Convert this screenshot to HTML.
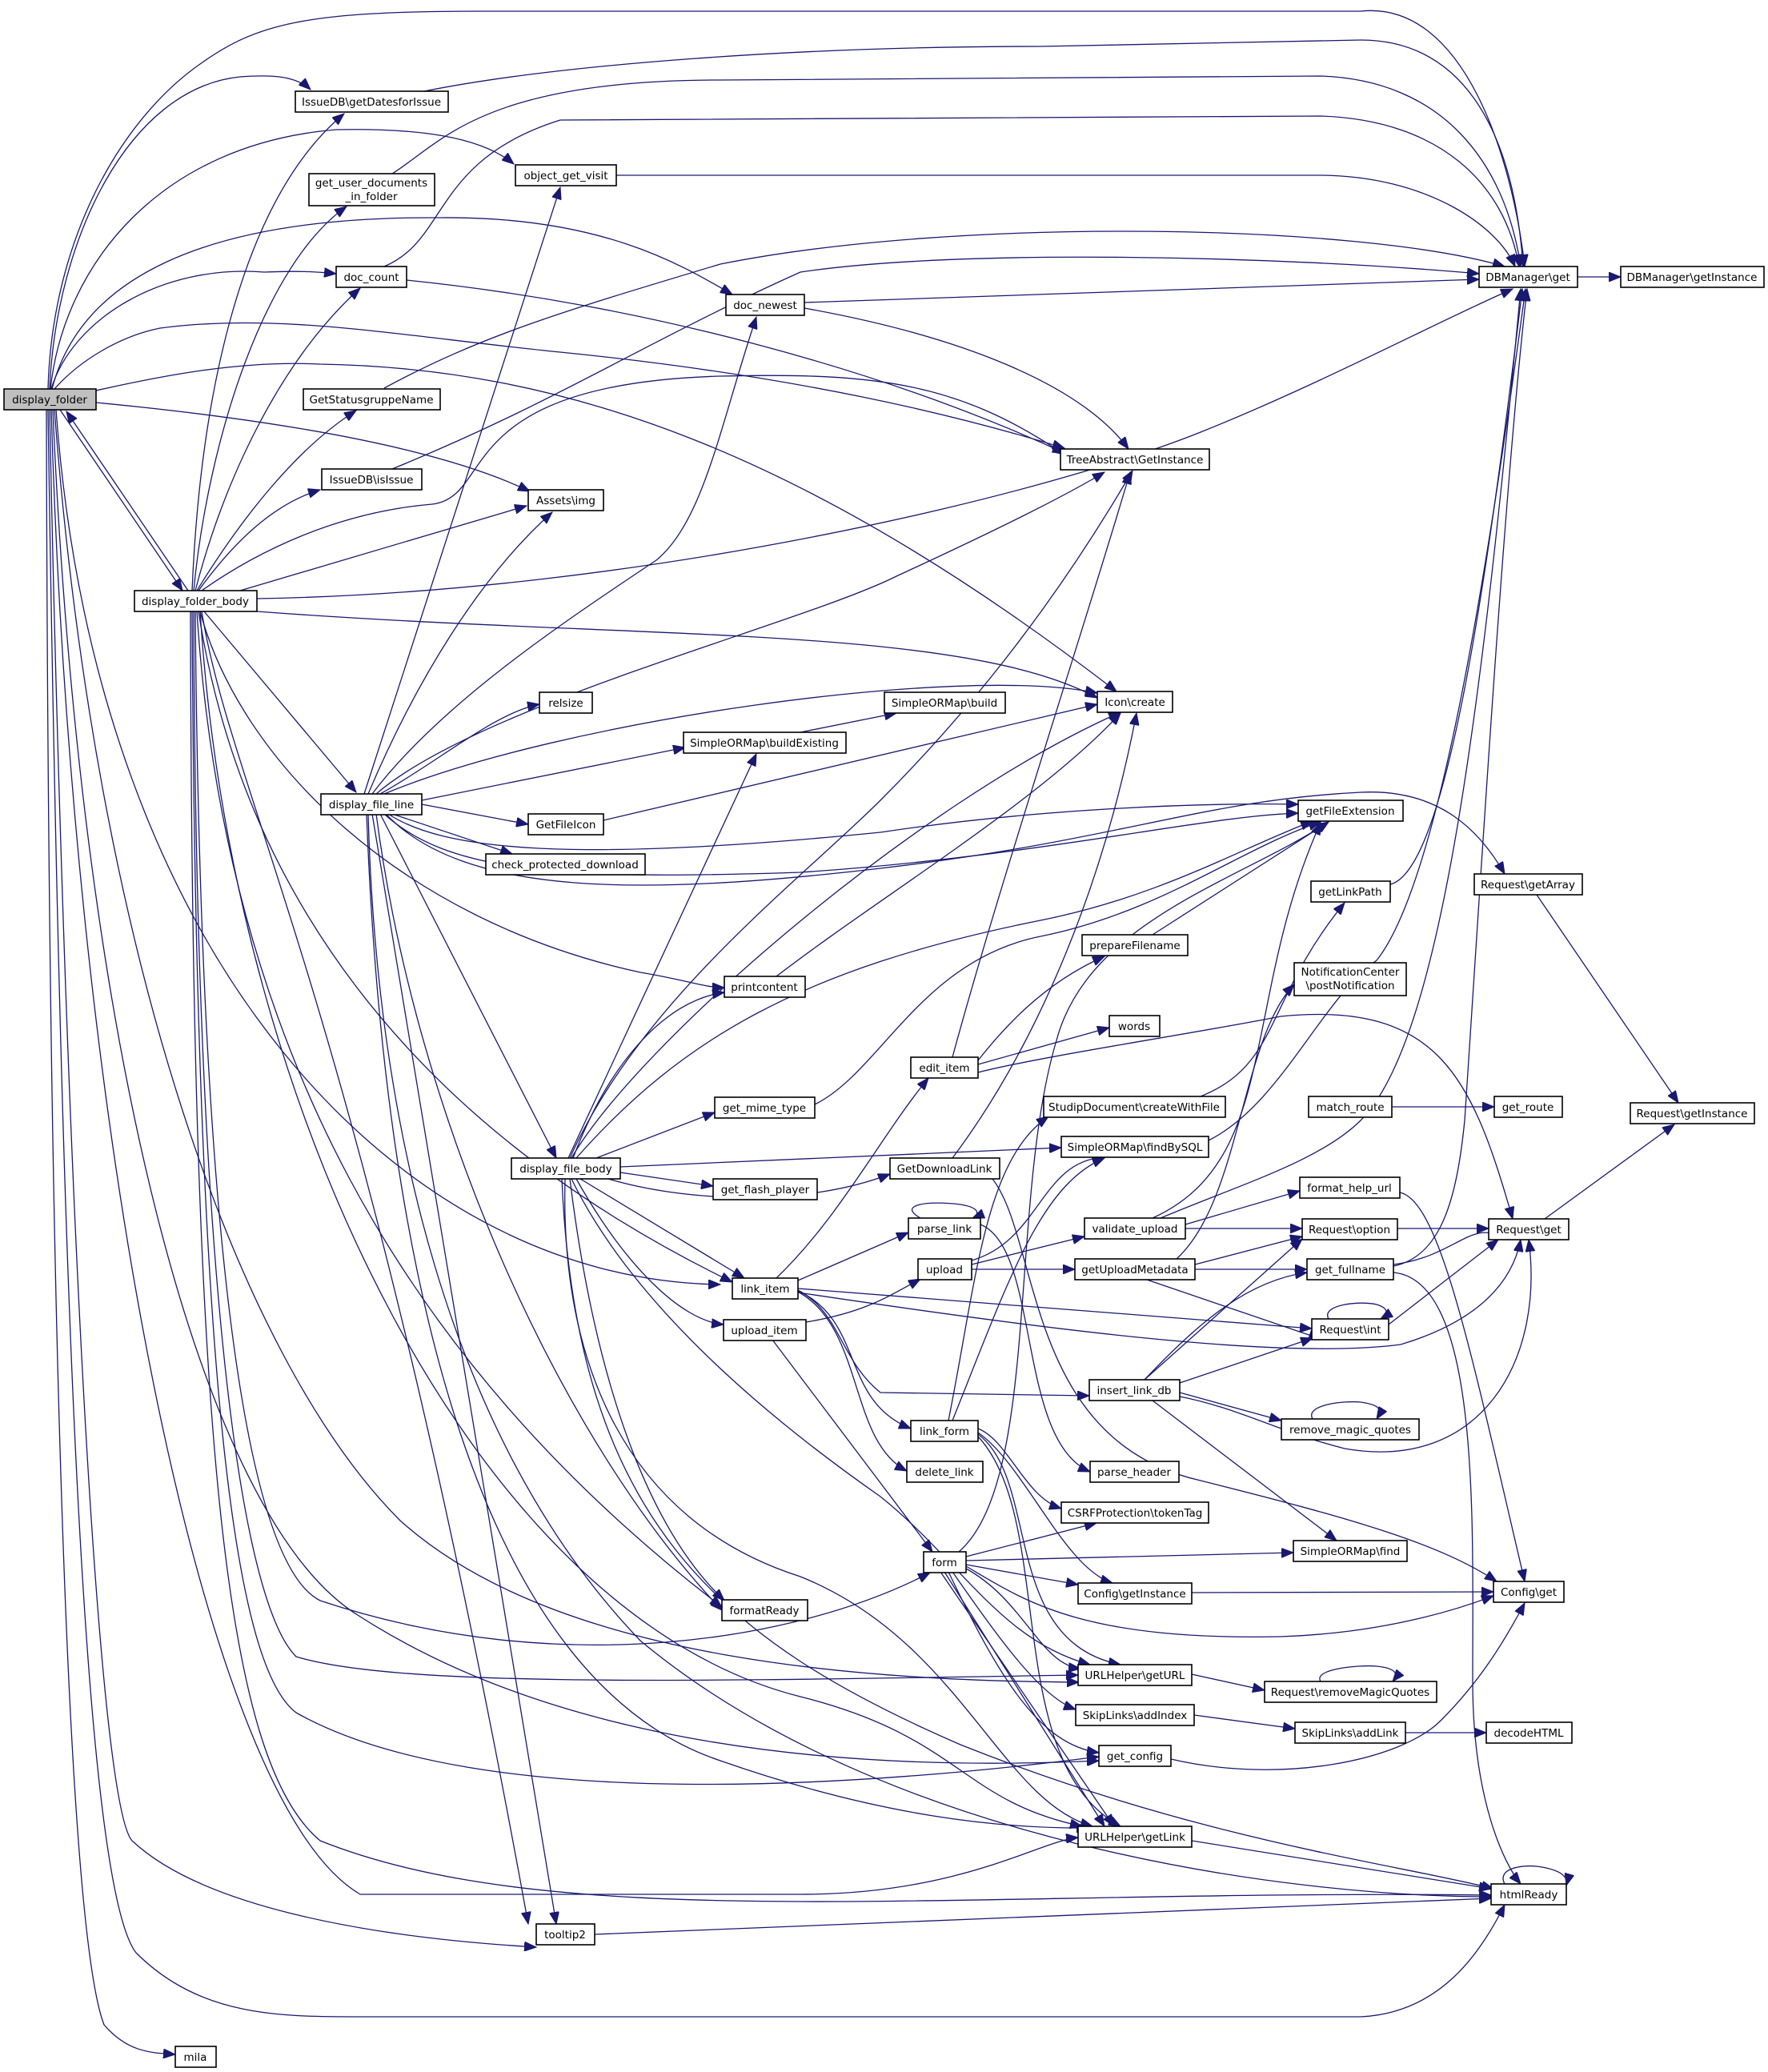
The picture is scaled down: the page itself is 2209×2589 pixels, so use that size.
<!DOCTYPE html>
<html><head><meta charset="utf-8"><style>
html,body{margin:0;padding:0;background:#fff;}
svg{display:block;}
.e{fill:none;stroke:#191970;stroke-width:1.3;marker-end:url(#a);}
.n rect{fill:#fff;stroke:#000;stroke-width:1.6;}
text{font-family:"DejaVu Sans","Liberation Sans",sans-serif;font-size:13.5px;fill:#000;text-anchor:middle;}
</style></head><body>
<svg width="2209" height="2589" viewBox="0 0 2209 2589" xmlns="http://www.w3.org/2000/svg">
<defs><marker id="a" markerUnits="userSpaceOnUse" markerWidth="16" markerHeight="12" refX="15" refY="6" orient="auto"><path d="M0,0 L15,6 L0,12 z" fill="#191970" stroke="#191970"/></marker></defs>
<g>
<path class="e" d="M60,486 C65,300 150,150 250,80 C320,30 380,14 600,14 L1700,14 C1830,0 1890,200 1905,333"/>
<path class="e" d="M62,486 C70,300 160,110 300,96 C340,93 370,95 388,112"/>
<path class="e" d="M63,486 C80,330 200,180 420,162 C520,160 600,170 642,205"/>
<path class="e" d="M64,486 C90,400 200,330 330,340 C380,338 400,340 420,342"/>
<path class="e" d="M65,486 C100,350 250,270 550,272 C750,270 850,330 915,368"/>
<path class="e" d="M68,486 C100,450 150,420 200,410 C350,390 500,420 700,440 C1000,470 1200,520 1330,560"/>
<path class="e" d="M120,488 C200,470 300,450 400,455 C700,460 1000,560 1395,864"/>
<path class="e" d="M120,503 C350,525 550,560 662,614"/>
<path class="e" d="M75,512 L228,738"/>
<path class="e" d="M235,738 L83,514"/>
<path class="e" d="M58,512 C60,1500 80,2400 130,2530 C160,2565 190,2565 219,2567"/>
<path class="e" d="M60,512 C75,1500 100,2350 170,2440 C250,2520 350,2520 450,2520 L1700,2520 C1800,2515 1850,2440 1880,2380"/>
<path class="e" d="M62,512 C80,1400 120,2250 165,2300 C250,2380 450,2420 670,2433"/>
<path class="e" d="M64,512 C90,1400 250,2250 450,2367 L1000,2367 C1200,2367 1300,2300 1347,2296"/>
<path class="e" d="M66,512 C100,1300 250,1900 450,2020 C700,2180 1050,2215 1373,2200"/>
<path class="e" d="M68,512 C120,1200 300,1700 500,1900 C700,2080 1100,2100 1348,2102"/>
<path class="e" d="M70,512 C120,1200 500,1600 900,1605"/>
<path class="e" d="M240,738 C250,500 300,250 430,142"/>
<path class="e" d="M242,738 C260,550 330,330 433,258"/>
<path class="e" d="M244,738 C280,600 350,450 450,360"/>
<path class="e" d="M246,738 C300,650 370,560 445,513"/>
<path class="e" d="M248,738 C290,680 340,630 400,612"/>
<path class="e" d="M300,738 L658,632"/>
<path class="e" d="M252,738 C320,690 420,640 540,630 C620,620 560,480 900,470 C1100,465 1200,480 1330,568"/>
<path class="e" d="M321,748 C800,740 1300,620 1500,540 C1650,480 1800,400 1890,361"/>
<path class="e" d="M321,764 C800,800 1200,780 1371,872"/>
<path class="e" d="M255,764 L445,990"/>
<path class="e" d="M250,764 C300,950 500,1150 800,1215 C860,1225 880,1234 905,1234"/>
<path class="e" d="M248,764 C300,1100 500,1400 915,1602"/>
<path class="e" d="M246,764 C280,1300 500,1700 902,2008"/>
<path class="e" d="M244,764 C250,1500 300,1950 400,2000 C700,2100 1000,2050 1162,1965"/>
<path class="e" d="M242,764 C245,1600 300,2000 370,2070 C500,2110 900,2100 1347,2093"/>
<path class="e" d="M240,764 C245,1700 290,2080 370,2140 C600,2270 1100,2230 1373,2195"/>
<path class="e" d="M238,764 C240,1800 280,2200 400,2300 C700,2420 1200,2360 1863,2368"/>
<path class="e" d="M250,764 C290,1400 600,2020 1000,2120 C1200,2170 1200,2250 1352,2282"/>
<path class="e" d="M252,764 C290,1000 450,1250 660,2404"/>
<path class="e" d="M455,992 L700,234"/>
<path class="e" d="M460,992 C520,850 600,720 690,640"/>
<path class="e" d="M465,992 C550,880 700,780 820,700 C880,650 900,530 945,396"/>
<path class="e" d="M470,992 C600,880 1000,780 1120,720 C1250,660 1330,620 1380,590"/>
<path class="e" d="M475,992 C550,950 620,890 674,880"/>
<path class="e" d="M480,992 C700,900 1200,830 1371,866"/>
<path class="e" d="M527,1000 L856,934"/>
<path class="e" d="M527,1005 L660,1030"/>
<path class="e" d="M490,1017 L640,1067"/>
<path class="e" d="M485,1017 C550,1060 700,1080 1100,1040 C1300,1010 1500,1003 1622,1005"/>
<path class="e" d="M480,1017 C560,1090 700,1100 1000,1090 C1300,1070 1500,1020 1622,1016"/>
<path class="e" d="M482,1017 C580,1120 800,1120 1100,1085 C1400,1050 1500,1000 1700,990 C1800,985 1850,1040 1880,1092"/>
<path class="e" d="M465,1017 L695,2404"/>
<path class="e" d="M460,1017 C470,1400 560,1800 800,2050 C1100,2300 1600,2370 1863,2370"/>
<path class="e" d="M470,1017 C520,1400 700,1800 902,2012"/>
<path class="e" d="M475,1017 L695,1447"/>
<path class="e" d="M458,1017 C480,1600 600,2100 900,2200 C1100,2270 1250,2285 1360,2284"/>
<path class="e" d="M710,1447 L945,942"/>
<path class="e" d="M712,1447 C800,1250 1000,1100 1100,1000 C1250,850 1350,700 1415,588"/>
<path class="e" d="M714,1447 C800,1300 1150,1000 1400,890"/>
<path class="e" d="M716,1447 C760,1330 830,1250 905,1240"/>
<path class="e" d="M720,1447 C850,1300 1000,1210 1300,1150 C1450,1120 1550,1060 1640,1026"/>
<path class="e" d="M745,1447 L893,1390"/>
<path class="e" d="M775,1458 L1326,1434"/>
<path class="e" d="M775,1465 L891,1482"/>
<path class="e" d="M760,1473 C850,1500 1000,1510 1112,1467"/>
<path class="e" d="M725,1473 L930,1597"/>
<path class="e" d="M720,1473 C780,1580 850,1650 904,1655"/>
<path class="e" d="M712,1473 C740,1700 800,1900 905,2000"/>
<path class="e" d="M706,1473 C700,1700 780,1900 1000,1970 C1200,2050 1250,2250 1365,2282"/>
<path class="e" d="M714,1473 C800,1650 1000,1800 1100,1870 C1200,1950 1250,2050 1362,2080"/>
<path class="e" d="M702,1473 C720,1900 900,2050 1200,2180 C1500,2300 1750,2330 1866,2360"/>
<path class="e" d="M970,1597 C1050,1520 1100,1420 1160,1347"/>
<path class="e" d="M997,1600 L1135,1540"/>
<path class="e" d="M997,1610 L1639,1660"/>
<path class="e" d="M997,1615 C1300,1660 1600,1700 1750,1680 C1850,1650 1890,1600 1900,1549"/>
<path class="e" d="M997,1612 C1050,1640 1050,1700 1100,1740 L1361,1744"/>
<path class="e" d="M997,1613 C1080,1650 1050,1750 1138,1785"/>
<path class="e" d="M997,1614 C1080,1660 1060,1800 1133,1838"/>
<path class="e" d="M1007,1652 C1080,1640 1110,1620 1150,1598"/>
<path class="e" d="M965,1674 L1165,1939"/>
<path class="e" d="M1190,1321 C1250,1100 1350,800 1412,590"/>
<path class="e" d="M1222,1330 L1386,1284"/>
<path class="e" d="M1222,1325 C1250,1290 1300,1230 1380,1195"/>
<path class="e" d="M1222,1340 C1300,1320 1500,1290 1600,1270 C1800,1250 1840,1350 1890,1523"/>
<path class="e" d="M1190,1447 C1300,1300 1380,1100 1420,891"/>
<path class="e" d="M1240,1473 C1300,1550 1280,1800 1500,1850 C1700,1900 1800,1930 1870,1976"/>
<path class="e" d="M1150,1522 C1120,1505 1160,1500 1200,1505 C1230,1510 1220,1520 1215,1522"/>
<path class="e" d="M1225,1530 C1300,1560 1270,1800 1362,1839"/>
<path class="e" d="M1214,1580 L1355,1545"/>
<path class="e" d="M1214,1586 L1343,1586"/>
<path class="e" d="M1214,1575 C1300,1550 1300,1450 1380,1446"/>
<path class="e" d="M1481,1535 L1627,1535"/>
<path class="e" d="M1481,1530 L1624,1488"/>
<path class="e" d="M1450,1522 C1550,1480 1650,1450 1700,1400 C1800,1300 1850,900 1900,361"/>
<path class="e" d="M1440,1522 C1600,1450 1550,1250 1650,1028"/>
<path class="e" d="M1493,1580 L1627,1545"/>
<path class="e" d="M1493,1586 L1633,1586"/>
<path class="e" d="M1430,1598 L1650,1673"/>
<path class="e" d="M1470,1573 C1550,1500 1550,1300 1617,1230"/>
<path class="e" d="M1741,1580 C1820,1570 1840,1520 1880,1549"/>
<path class="e" d="M1741,1590 C1850,1600 1840,1900 1840,2100 C1840,2250 1880,2330 1900,2354"/>
<path class="e" d="M1741,1582 C1800,1570 1820,1500 1830,1400 C1850,1100 1880,600 1908,361"/>
<path class="e" d="M1746,1535 L1860,1535"/>
<path class="e" d="M1735,1655 L1872,1549"/>
<path class="e" d="M1660,1648 C1650,1630 1700,1625 1720,1630 C1740,1636 1730,1645 1725,1648"/>
<path class="e" d="M1930,1523 L2092,1405"/>
<path class="e" d="M1920,1118 L2097,1378"/>
<path class="e" d="M1971,346 L2025,346"/>
<path class="e" d="M1739,1383 L1867,1383"/>
<path class="e" d="M1749,1490 C1800,1500 1840,1700 1905,1976"/>
<path class="e" d="M1737,1105 C1800,1090 1850,800 1902,361"/>
<path class="e" d="M1440,1168 L1660,1027"/>
<path class="e" d="M1510,1425 C1600,1380 1650,1250 1720,1200 C1800,1100 1860,700 1906,361"/>
<path class="e" d="M1500,1370 C1600,1330 1580,1250 1680,1128"/>
<path class="e" d="M1430,1724 L1627,1548"/>
<path class="e" d="M1430,1724 C1500,1650 1560,1600 1633,1590"/>
<path class="e" d="M1474,1728 L1640,1672"/>
<path class="e" d="M1474,1740 L1601,1775"/>
<path class="e" d="M1440,1750 L1670,1925"/>
<path class="e" d="M1474,1745 C1550,1760 1600,1790 1680,1810 C1850,1840 1930,1700 1910,1549"/>
<path class="e" d="M1640,1773 C1630,1755 1680,1750 1700,1752 C1730,1756 1725,1765 1720,1773"/>
<path class="e" d="M1185,1775 C1220,1600 1230,1450 1310,1395"/>
<path class="e" d="M1190,1775 C1260,1600 1300,1480 1380,1447"/>
<path class="e" d="M1222,1785 C1260,1800 1280,1870 1326,1885"/>
<path class="e" d="M1222,1790 C1280,1830 1330,1960 1390,1978"/>
<path class="e" d="M1222,1792 C1300,1850 1250,2050 1400,2080"/>
<path class="e" d="M1222,1795 C1320,1900 1250,2200 1400,2282"/>
<path class="e" d="M1207,1945 L1370,1903"/>
<path class="e" d="M1207,1950 L1616,1940"/>
<path class="e" d="M1207,1955 L1347,1980"/>
<path class="e" d="M1207,1957 C1280,2000 1350,2050 1600,2045 C1750,2040 1850,2000 1866,1994"/>
<path class="e" d="M1207,1960 C1280,2000 1300,2080 1350,2085"/>
<path class="e" d="M1190,1964 C1250,2050 1300,2120 1344,2136"/>
<path class="e" d="M1185,1964 C1250,2100 1300,2180 1373,2190"/>
<path class="e" d="M1180,1964 L1380,2282"/>
<path class="e" d="M1175,1964 L1392,2282"/>
<path class="e" d="M1198,1939 C1300,1850 1260,1500 1320,1300 C1360,1150 1550,1100 1660,1027"/>
<path class="e" d="M1489,1990 L1866,1989"/>
<path class="e" d="M1489,2092 L1580,2112"/>
<path class="e" d="M1650,2101 C1640,2085 1700,2080 1720,2082 C1750,2085 1745,2095 1740,2101"/>
<path class="e" d="M1492,2143 L1618,2160"/>
<path class="e" d="M1756,2165 L1857,2165"/>
<path class="e" d="M1463,2198 C1600,2230 1750,2200 1800,2150 C1850,2100 1880,2050 1905,2003"/>
<path class="e" d="M1489,2300 L1863,2360"/>
<path class="e" d="M1880,2354 C1870,2335 1900,2330 1920,2332 C1950,2336 1960,2345 1957,2356"/>
<path class="e" d="M743,2417 L1863,2372"/>
<path class="e" d="M754,1025 L1371,880"/>
<path class="e" d="M1000,915 L1120,891"/>
<path class="e" d="M480,485 C600,420 700,390 900,330 C1200,270 1700,280 1880,333"/>
<path class="e" d="M490,586 C700,500 800,430 1000,340 C1200,310 1600,320 1848,342"/>
<path class="e" d="M530,114 C700,80 1000,58 1300,58 L1700,50 C1820,50 1890,150 1903,333"/>
<path class="e" d="M490,217 C550,180 600,100 900,100 L1650,95 C1800,100 1880,200 1900,333"/>
<path class="e" d="M480,333 C560,300 540,200 700,150 L1650,145 C1800,150 1880,230 1898,333"/>
<path class="e" d="M508,350 C800,380 1100,460 1330,566"/>
<path class="e" d="M770,219 L1650,219 C1780,220 1870,280 1893,333"/>
<path class="e" d="M1005,378 L1848,349"/>
<path class="e" d="M1005,385 C1200,420 1350,480 1410,561"/>
<path class="e" d="M970,1220 C1100,1120 1300,1000 1400,891"/>
<path class="e" d="M1018,1380 C1100,1340 1150,1200 1300,1170 C1450,1140 1550,1060 1650,1027"/>
</g>
<g class="n">
<rect x="5" y="486" width="115" height="26" style="fill:#bfbfbf"/><text x="62" y="504">display_folder</text>
<rect x="369" y="114" width="191" height="26"/><text x="464" y="132">IssueDB\getDatesforIssue</text>
<rect x="386" y="217" width="157" height="40"/><text x="464" y="233">get_user_documents</text><text x="464" y="250">_in_folder</text>
<rect x="644" y="206" width="126" height="26"/><text x="707" y="224">object_get_visit</text>
<rect x="420" y="333" width="88" height="26"/><text x="464" y="351">doc_count</text>
<rect x="907" y="368" width="98" height="26"/><text x="956" y="386">doc_newest</text>
<rect x="379" y="486" width="171" height="26"/><text x="464" y="504">GetStatusgruppeName</text>
<rect x="402" y="586" width="125" height="26"/><text x="464" y="604">IssueDB\isIssue</text>
<rect x="660" y="612" width="94" height="26"/><text x="707" y="630">Assets\img</text>
<rect x="168" y="738" width="153" height="26"/><text x="244" y="756">display_folder_body</text>
<rect x="674" y="865" width="66" height="26"/><text x="707" y="883">relsize</text>
<rect x="854" y="915" width="203" height="26"/><text x="955" y="933">SimpleORMap\buildExisting</text>
<rect x="401" y="992" width="126" height="26"/><text x="464" y="1010">display_file_line</text>
<rect x="660" y="1017" width="94" height="26"/><text x="707" y="1035">GetFileIcon</text>
<rect x="607" y="1067" width="199" height="26"/><text x="706" y="1085">check_protected_download</text>
<rect x="905" y="1220" width="101" height="26"/><text x="955" y="1238">printcontent</text>
<rect x="1848" y="333" width="123" height="26"/><text x="1909" y="351">DBManager\get</text>
<rect x="2025" y="333" width="179" height="26"/><text x="2114" y="351">DBManager\getInstance</text>
<rect x="1325" y="561" width="186" height="26"/><text x="1418" y="579">TreeAbstract\GetInstance</text>
<rect x="1105" y="865" width="151" height="26"/><text x="1180" y="883">SimpleORMap\build</text>
<rect x="1371" y="864" width="94" height="26"/><text x="1418" y="882">Icon\create</text>
<rect x="1622" y="1000" width="131" height="26"/><text x="1687" y="1018">getFileExtension</text>
<rect x="1638" y="1101" width="99" height="26"/><text x="1687" y="1119">getLinkPath</text>
<rect x="1842" y="1092" width="135" height="26"/><text x="1909" y="1110">Request\getArray</text>
<rect x="1352" y="1168" width="132" height="26"/><text x="1418" y="1186">prepareFilename</text>
<rect x="1617" y="1203" width="140" height="41"/><text x="1687" y="1219">NotificationCenter</text><text x="1687" y="1236">\postNotification</text>
<rect x="1386" y="1269" width="63" height="26"/><text x="1417" y="1287">words</text>
<rect x="639" y="1447" width="136" height="26"/><text x="707" y="1465">display_file_body</text>
<rect x="893" y="1371" width="125" height="26"/><text x="955" y="1389">get_mime_type</text>
<rect x="891" y="1473" width="130" height="26"/><text x="956" y="1491">get_flash_player</text>
<rect x="915" y="1597" width="82" height="26"/><text x="956" y="1615">link_item</text>
<rect x="904" y="1649" width="103" height="26"/><text x="955" y="1667">upload_item</text>
<rect x="902" y="1999" width="107" height="26"/><text x="955" y="2017">formatReady</text>
<rect x="670" y="2404" width="73" height="26"/><text x="706" y="2422">tooltip2</text>
<rect x="219" y="2557" width="51" height="26"/><text x="244" y="2575">mila</text>
<rect x="1138" y="1321" width="84" height="26"/><text x="1180" y="1339">edit_item</text>
<rect x="1304" y="1370" width="227" height="26"/><text x="1417" y="1388">StudipDocument\createWithFile</text>
<rect x="1326" y="1420" width="184" height="26"/><text x="1418" y="1438">SimpleORMap\findBySQL</text>
<rect x="1635" y="1370" width="104" height="26"/><text x="1687" y="1388">match_route</text>
<rect x="1867" y="1370" width="85" height="26"/><text x="1909" y="1388">get_route</text>
<rect x="2037" y="1378" width="155" height="26"/><text x="2114" y="1396">Request\getInstance</text>
<rect x="1112" y="1447" width="137" height="26"/><text x="1180" y="1465">GetDownloadLink</text>
<rect x="1624" y="1471" width="125" height="26"/><text x="1686" y="1489">format_help_url</text>
<rect x="1135" y="1522" width="90" height="26"/><text x="1180" y="1540">parse_link</text>
<rect x="1355" y="1522" width="126" height="26"/><text x="1418" y="1540">validate_upload</text>
<rect x="1627" y="1523" width="119" height="26"/><text x="1686" y="1541">Request\option</text>
<rect x="1860" y="1523" width="100" height="26"/><text x="1910" y="1541">Request\get</text>
<rect x="1147" y="1573" width="67" height="26"/><text x="1180" y="1591">upload</text>
<rect x="1343" y="1573" width="150" height="26"/><text x="1418" y="1591">getUploadMetadata</text>
<rect x="1633" y="1573" width="108" height="26"/><text x="1687" y="1591">get_fullname</text>
<rect x="1639" y="1648" width="96" height="26"/><text x="1687" y="1666">Request\int</text>
<rect x="1361" y="1724" width="113" height="26"/><text x="1417" y="1742">insert_link_db</text>
<rect x="1138" y="1775" width="84" height="26"/><text x="1180" y="1793">link_form</text>
<rect x="1601" y="1773" width="172" height="26"/><text x="1687" y="1791">remove_magic_quotes</text>
<rect x="1133" y="1826" width="95" height="26"/><text x="1180" y="1844">delete_link</text>
<rect x="1362" y="1826" width="111" height="26"/><text x="1417" y="1844">parse_header</text>
<rect x="1326" y="1877" width="184" height="26"/><text x="1418" y="1895">CSRFProtection\tokenTag</text>
<rect x="1154" y="1939" width="53" height="26"/><text x="1180" y="1957">form</text>
<rect x="1616" y="1925" width="142" height="26"/><text x="1687" y="1943">SimpleORMap\find</text>
<rect x="1347" y="1978" width="142" height="26"/><text x="1418" y="1996">Config\getInstance</text>
<rect x="1866" y="1976" width="88" height="26"/><text x="1910" y="1994">Config\get</text>
<rect x="1347" y="2080" width="142" height="26"/><text x="1418" y="2098">URLHelper\getURL</text>
<rect x="1580" y="2101" width="215" height="26"/><text x="1687" y="2119">Request\removeMagicQuotes</text>
<rect x="1344" y="2130" width="148" height="26"/><text x="1418" y="2148">SkipLinks\addIndex</text>
<rect x="1618" y="2152" width="138" height="26"/><text x="1687" y="2170">SkipLinks\addLink</text>
<rect x="1857" y="2152" width="107" height="26"/><text x="1910" y="2170">decodeHTML</text>
<rect x="1373" y="2181" width="90" height="26"/><text x="1418" y="2199">get_config</text>
<rect x="1347" y="2282" width="142" height="26"/><text x="1418" y="2300">URLHelper\getLink</text>
<rect x="1863" y="2354" width="94" height="26"/><text x="1910" y="2372">htmlReady</text>
</g>
</svg>
</body></html>
